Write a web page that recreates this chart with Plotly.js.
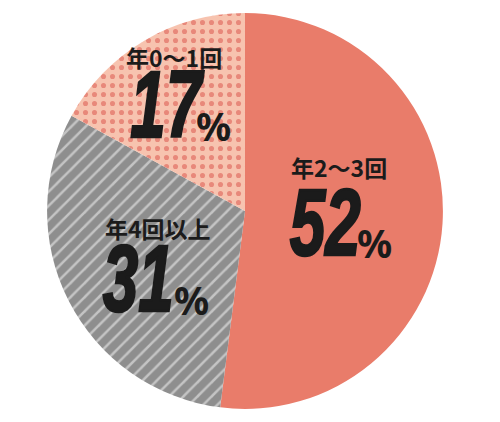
<!DOCTYPE html>
<html>
<head>
<meta charset="utf-8">
<script src="https://cdn.plot.ly/plotly-3.0.1.min.js"></script>
<style>
  html, body { margin: 0; padding: 0; background: #fff; }
  #chart { width: 500px; height: 422px; }
  /* the big numbers are a condensed face: squeeze them sideways */
  #chart g.annotation[data-index="0"] text,
  #chart g.annotation[data-index="1"] text,
  #chart g.annotation[data-index="2"] text {
    transform-box: fill-box;
    transform-origin: center;
    transform: scaleX(0.68);
    stroke: #1b1b1b;
    stroke-width: 2.5px;
  }
</style>
</head>
<body>
<div id="chart"></div>
<script>
// slices, clockwise from 12 o'clock
const labels = ['年2〜3回', '年4回以上', '年0〜1回'];
const values = [52, 31, 17];

const sliceColors = ['#E97C6A', '#8E8E8E', '#F7C3AF'];
const patternShapes = ['', '/', '.'];
const patternFg = ['#E97C6A', '#C4C4C4', '#E8887A'];

// text placement in pixels of the 500x422 picture
const labelPx = [[339, 167], [158, 228], [174, 57]];
const numPx = [[325, 222], [138, 278], [167, 105]];
const pctPx = [[374, 242], [191, 299], [213, 125]];

const W = 500, H = 422;
const px = (p) => ({ x: p[0] / W, y: 1 - p[1] / H });

const data = [{
  type: 'pie',
  labels: labels,
  values: values,
  sort: false,
  direction: 'clockwise',
  rotation: 0,
  textinfo: 'none',
  hoverinfo: 'label+percent',
  domain: { x: [0.094, 0.886], y: [0.031, 0.969] },
  marker: {
    colors: sliceColors,
    line: { width: 0 },
    pattern: {
      shape: patternShapes,
      fgcolor: patternFg,
      bgcolor: sliceColors,
      size: [10, 10, 9],
      solidity: [0.3, 0.25, 0.25],
      fillmode: 'replace'
    }
  }
}];

const base = { xref: 'paper', yref: 'paper', showarrow: false, xanchor: 'center', yanchor: 'middle' };
const annotations = [];
// numbers first (indices 0..2, styled in the css above)
values.forEach((v, i) => {
  annotations.push(Object.assign({}, base, px(numPx[i]), {
    text: '<i>' + v + '</i>',
    font: { family: '"Liberation Sans", Arial, sans-serif', size: 94, weight: 'bold', color: '#1b1b1b' }
  }));
});
labels.forEach((lab, i) => {
  annotations.push(Object.assign({}, base, px(labelPx[i]), {
    text: lab,
    font: { family: '"Noto Sans CJK JP", sans-serif', size: 23, weight: 'bold', color: '#1b1b1b' }
  }));
});
values.forEach((v, i) => {
  annotations.push(Object.assign({}, base, px(pctPx[i]), {
    text: '%',
    font: { family: '"Noto Sans", sans-serif', size: 39, weight: 'bold', color: '#1b1b1b' }
  }));
});

const layout = {
  width: W,
  height: H,
  margin: { t: 0, b: 0, l: 0, r: 0 },
  paper_bgcolor: '#ffffff',
  showlegend: false,
  annotations: annotations
};

Plotly.newPlot('chart', data, layout, { displayModeBar: false });
</script>
</body>
</html>
